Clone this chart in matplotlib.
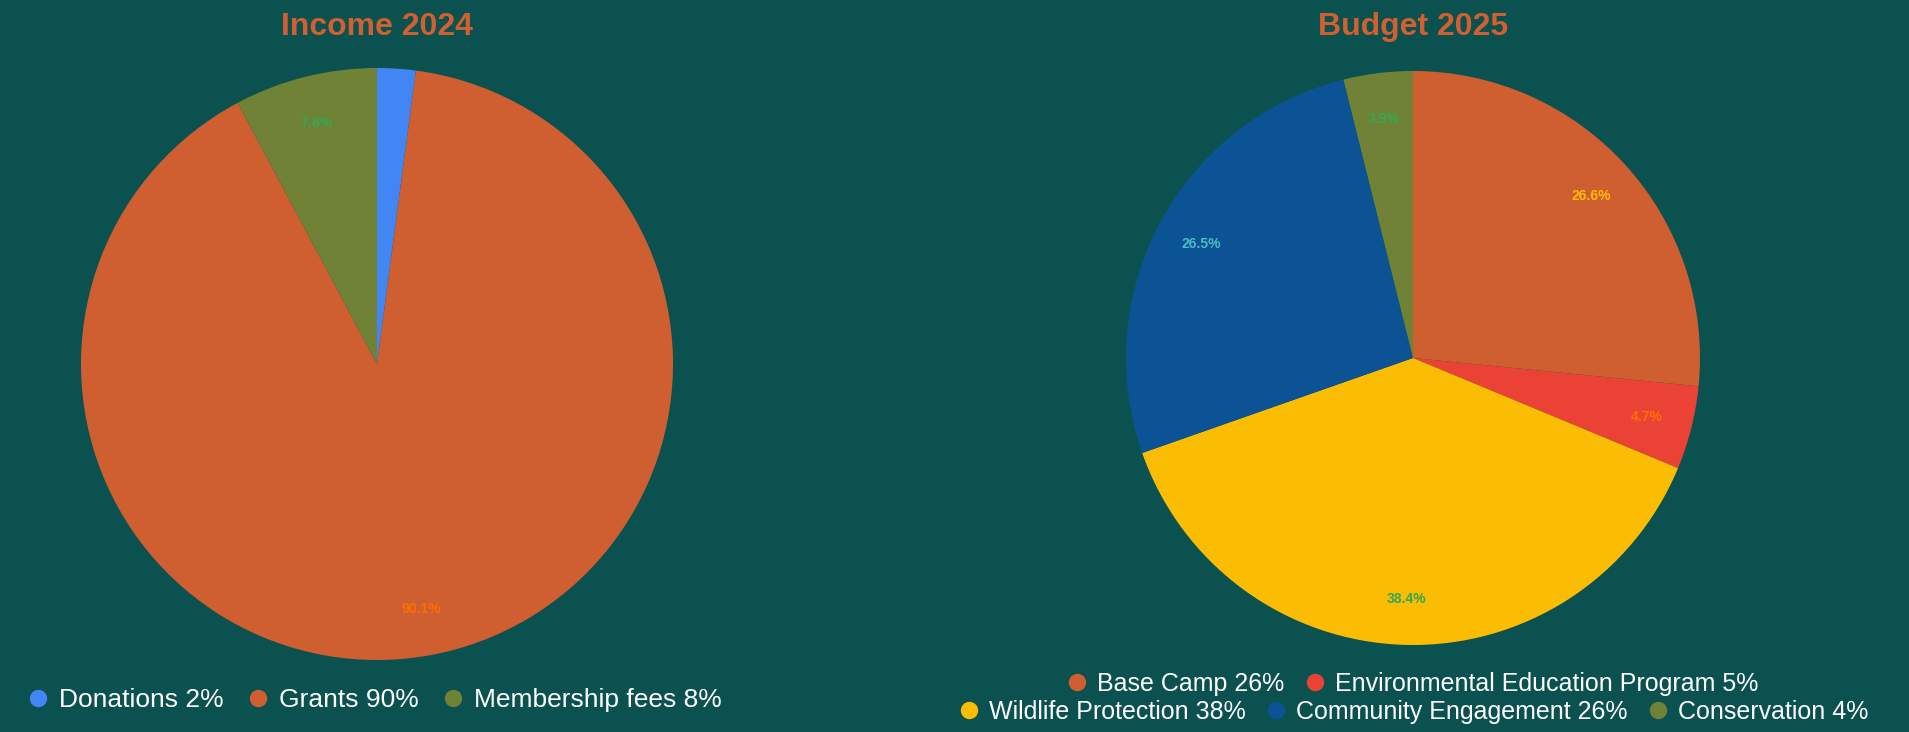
import matplotlib
matplotlib.use('Agg')
import matplotlib.pyplot as plt
from matplotlib.lines import Line2D

# data
income_labels = ['Donations', 'Grants', 'Membership fees']
income_values = [2.1, 90.1, 7.8]
income_legend = ['Donations 2%', 'Grants 90%', 'Membership fees 8%']

budget_labels = ['Base Camp', 'Environmental Education Program', 'Wildlife Protection',
                 'Community Engagement', 'Conservation']
budget_values = [26.6, 4.7, 38.4, 26.5, 3.9]
budget_legend = ['Base Camp 26%', 'Environmental Education Program 5%', 'Wildlife Protection 38%',
                 'Community Engagement 26%', 'Conservation 4%']

bg = '#0b5150'
title_col = '#d0602f'
income_colors = ['#4285f4', '#cf5f31', '#6f8236']
income_pct_colors = ['#4285f4', '#ff6d01', '#34a853']
budget_colors = ['#cf5f31', '#ea4335', '#fbbc04', '#0b5394', '#6f8236']
budget_pct_colors = ['#fbbc04', '#ff6d01', '#34a853', '#46bdc6', '#34a853']

W, H = 1909, 732
fig = plt.figure(figsize=(W / 100, H / 100), dpi=100, facecolor=bg)


def make_pie(cx, cy, r, values, colors, pct_colors, title):
    ax = fig.add_axes([(cx - r) / W, (H - cy - r) / H, 2 * r / W, 2 * r / H])
    ax.set_facecolor(bg)
    wedges, texts, autotexts = ax.pie(values, colors=colors, startangle=90, counterclock=False,
                                      autopct=lambda p: '%.1f%%' % p if p > 3 else '',
                                      pctdistance=0.84, radius=1,
                                      textprops={'fontsize': 10, 'fontweight': 'bold',
                                                 'family': 'Liberation Sans'})
    for t, c in zip(autotexts, pct_colors):
        t.set_color(c)
    ax.set_xlim(-1, 1)
    ax.set_ylim(-1, 1)
    ax.set_aspect('equal')
    ax.axis('off')
    fig.text(cx / W, 1 - 27 / H, title, ha='center', va='center', color=title_col,
             fontsize=23, fontweight='bold', family='Liberation Sans')
    return ax


def add_legend(cx, cy, labels, colors, size, colspace):
    handles = [Line2D([], [], marker='o', linestyle='', markersize=11.5, markerfacecolor=c,
                      markeredgecolor=c) for c in colors]
    leg = fig.legend(handles, labels, loc='center', bbox_to_anchor=(cx / W, 1 - cy / H),
                     ncol=len(labels), frameon=False,
                     prop={'family': 'Liberation Sans', 'size': size}, labelcolor='white',
                     handlelength=0.6, handletextpad=0.5, columnspacing=colspace, borderpad=0)
    return leg


make_pie(377, 364, 296, income_values, income_colors, income_pct_colors, 'Income 2024')
make_pie(1413, 358, 287, budget_values, budget_colors, budget_pct_colors, 'Budget 2025')

add_legend(376, 700, income_legend, income_colors, 19, 1.0)
add_legend(1414, 684, budget_legend[:2], budget_colors[:2], 18, 0.9)
add_legend(1415, 712, budget_legend[2:], budget_colors[2:], 18, 0.9)

fig.savefig('out.png', dpi=100, facecolor=bg)
